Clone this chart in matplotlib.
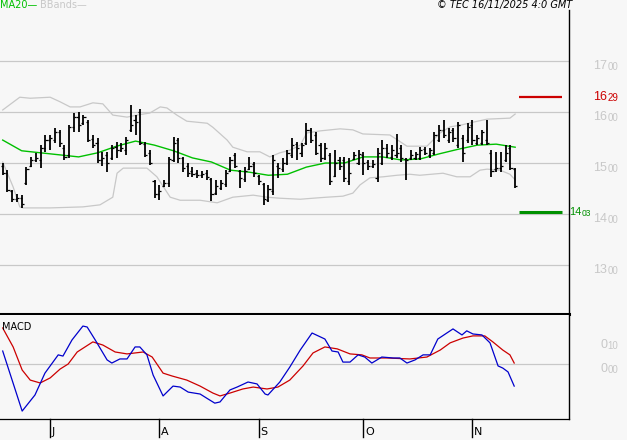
import numpy as np
import matplotlib
matplotlib.use("Agg")
import matplotlib.pyplot as plt
from matplotlib import font_manager

# daily OHLC bars (mid-June to 14 Nov)
opens = [14.95, 14.80, 14.45, 14.30, 14.32, 14.60, 14.94, 15.06, 15.05, 15.30,
         15.45, 15.45, 15.60, 15.30, 15.15, 15.70, 15.90, 15.78, 15.80, 15.48,
         15.40, 15.05, 15.15, 15.10, 15.32, 15.25, 15.25, 15.65, 15.85, 16.00,
         15.38, 15.20, 14.65, 14.40, 14.55, 14.60, 15.05, 15.45, 15.10, 14.95,
         14.85, 14.80, 14.76, 14.80, 14.68, 14.42, 14.52, 14.58, 14.85, 15.15,
         14.84, 14.68, 14.88, 14.98, 14.75, 14.58, 14.28, 14.45, 14.95, 14.88,
         15.00, 15.15, 15.38, 15.20, 15.40, 15.65, 15.55, 15.35, 15.10, 15.15,
         14.75, 15.05, 15.05, 14.65, 15.08, 15.00, 15.15, 15.02, 14.95, 14.70,
         15.00, 15.30, 15.12, 15.15, 15.30, 15.08, 15.10, 15.10, 15.10, 15.28,
         15.15, 15.20, 15.45, 15.65, 15.45, 15.65, 15.35, 15.50, 15.45, 15.75,
         15.40, 15.40, 15.45, 15.20, 14.88, 14.90, 15.05, 15.30, 14.88]
highs = [15.00, 14.86, 14.47, 14.39, 14.37, 14.92, 15.12, 15.20, 15.35, 15.55,
         15.55, 15.69, 15.65, 15.35, 15.74, 15.98, 16.00, 15.94, 15.84, 15.55,
         15.49, 15.22, 15.22, 15.35, 15.41, 15.39, 15.51, 16.14, 15.94, 16.06,
         15.41, 15.25, 14.67, 14.57, 14.67, 15.12, 15.51, 15.49, 15.12, 15.00,
         14.92, 14.86, 14.84, 14.86, 14.71, 14.67, 14.67, 14.86, 15.12, 15.20,
         14.86, 14.92, 15.12, 15.02, 14.76, 14.61, 14.57, 15.16, 15.00, 15.10,
         15.25, 15.49, 15.41, 15.39, 15.78, 15.69, 15.61, 15.39, 15.39, 15.20,
         15.25, 15.12, 15.12, 15.10, 15.22, 15.25, 15.22, 15.06, 15.06, 15.29,
         15.45, 15.37, 15.35, 15.57, 15.35, 15.10, 15.25, 15.22, 15.31, 15.31,
         15.29, 15.61, 15.74, 15.84, 15.69, 15.69, 15.80, 15.55, 15.78, 15.84,
         15.55, 15.65, 15.84, 15.25, 15.22, 15.22, 15.35, 15.35, 14.90]
lows = [14.76, 14.43, 14.24, 14.24, 14.12, 14.57, 14.92, 15.02, 14.90, 15.22,
        15.25, 15.39, 15.31, 15.06, 15.10, 15.61, 15.61, 15.74, 15.41, 15.29,
        15.00, 14.94, 14.82, 15.06, 15.10, 15.22, 15.16, 15.61, 15.55, 15.35,
        15.12, 14.96, 14.31, 14.27, 14.53, 14.53, 15.02, 15.00, 14.82, 14.73,
        14.73, 14.71, 14.71, 14.67, 14.26, 14.37, 14.47, 14.53, 14.82, 14.90,
        14.51, 14.63, 14.86, 14.73, 14.57, 14.18, 14.24, 14.37, 14.71, 14.82,
        14.96, 15.10, 15.06, 15.12, 15.35, 15.39, 15.16, 15.02, 15.06, 14.57,
        14.73, 14.86, 14.63, 14.57, 15.06, 14.96, 14.76, 14.86, 14.90, 14.63,
        14.96, 15.10, 15.06, 15.10, 15.02, 14.67, 15.06, 15.06, 15.06, 15.16,
        15.10, 15.16, 15.41, 15.49, 15.39, 15.41, 15.29, 15.02, 15.39, 15.35,
        15.35, 15.35, 15.35, 14.73, 14.82, 14.82, 15.02, 14.86, 14.51]
closes = [14.80, 14.47, 14.30, 14.32, 14.20, 14.88, 15.06, 15.10, 15.30, 15.45,
          15.50, 15.60, 15.40, 15.12, 15.70, 15.90, 15.75, 15.90, 15.45, 15.35,
          15.05, 15.10, 15.00, 15.30, 15.25, 15.30, 15.45, 15.75, 15.80, 15.40,
          15.15, 15.00, 14.40, 14.45, 14.60, 15.08, 15.40, 15.10, 14.90, 14.80,
          14.78, 14.76, 14.78, 14.72, 14.40, 14.55, 14.60, 14.80, 15.05, 14.95,
          14.70, 14.85, 14.95, 14.80, 14.65, 14.30, 14.50, 15.05, 14.90, 15.00,
          15.20, 15.35, 15.30, 15.35, 15.65, 15.45, 15.20, 15.10, 15.30, 14.65,
          15.00, 14.95, 14.70, 14.80, 15.15, 15.18, 15.00, 14.95, 14.98, 15.20,
          15.30, 15.20, 15.25, 15.20, 15.10, 15.05, 15.15, 15.18, 15.25, 15.20,
          15.25, 15.55, 15.65, 15.55, 15.60, 15.50, 15.75, 15.20, 15.70, 15.45,
          15.50, 15.60, 15.40, 14.85, 14.90, 14.95, 15.20, 14.90, 14.55]

# 20-day moving average
ma_x = [0, 4, 8, 12, 16, 20, 24, 28, 32, 36, 40, 44, 48, 52,
        56, 60, 64, 68, 72, 76, 80, 84, 88, 92, 96, 100, 104, 108]
ma_y = [15.45, 15.24, 15.20, 15.16, 15.12, 15.20, 15.33, 15.43, 15.35, 15.24,
        15.10, 15.02, 14.86, 14.82, 14.76, 14.78, 14.92, 15.00, 15.00, 15.12,
        15.12, 15.06, 15.08, 15.18, 15.27, 15.35, 15.37, 15.31]

# Bollinger bands
bb_up_x = [0, 3.6, 5.8, 10.0, 12.1, 14.2, 16.3, 19.0, 21.1, 23.2, 26.2, 28.3,
           31.0, 33.2, 34.6, 36.7, 38.8, 43.1, 44.3, 47.3, 48.5, 51.5, 54.2,
           56.3, 58.4, 60.5, 62.7, 64.1, 66.9, 71.1, 73.8, 75.9, 81.6, 85.2,
           89.4, 90.7, 92.2, 94.3, 96.4, 99.1, 102.1, 106.9, 108]
bb_up_y = [16.04, 16.29, 16.27, 16.29, 16.20, 16.10, 16.10, 16.18, 16.16,
           15.94, 15.90, 15.94, 15.98, 16.10, 16.08, 15.94, 15.82, 15.78,
           15.70, 15.45, 15.31, 15.22, 15.22, 15.12, 15.20, 15.25, 15.35,
           15.59, 15.63, 15.67, 15.65, 15.57, 15.55, 15.33, 15.33, 15.45,
           15.59, 15.71, 15.74, 15.80, 15.86, 15.88, 15.96]
bb_lo_x = [0, 0.9, 2.2, 3.6, 4.3, 10.0, 16.9, 20.5, 23.2, 24.1, 25.4, 30.4,
           32.5, 35.3, 37.4, 41.6, 45.2, 48.5, 52.8, 55.7, 58.4, 62.7, 65.4,
           68.3, 71.7, 73.8, 75.3, 77.4, 80.2, 83.1, 85.8, 87.9, 92.8, 95.7,
           98.5, 100.6, 102.1, 104.8, 106.9, 108]
bb_lo_y = [15.02, 14.82, 14.53, 14.14, 14.12, 14.12, 14.14, 14.18, 14.33,
           14.80, 14.90, 14.90, 14.73, 14.33, 14.27, 14.27, 14.22, 14.33,
           14.37, 14.33, 14.31, 14.29, 14.31, 14.33, 14.35, 14.41, 14.57,
           14.71, 14.73, 14.76, 14.78, 14.76, 14.80, 14.73, 14.73, 14.86,
           14.88, 14.86, 14.78, 14.67]

# MACD and signal
macd_x = [0, 4.1, 6.8, 8.9, 11.7, 12.7, 14.6, 16.9, 17.8, 19.5, 22.0, 23.0,
          24.7, 26.2, 27.9, 28.9, 30.4, 31.7, 33.8, 35.9, 37.4, 39.1, 41.6,
          43.3, 44.7, 45.8, 47.9, 49.4, 51.7, 53.6, 55.3, 55.9, 58.4, 60.5,
          62.7, 65.2, 67.9, 69.4, 70.7, 71.7, 73.2, 74.9, 76.3, 77.8, 79.9,
          82.3, 83.7, 85.2, 86.9, 88.6, 90.1, 91.7, 93.6, 94.9, 96.8, 97.8,
          99.1, 101.0, 102.7, 104.4, 105.4, 106.5, 107.8]
macd_y = [0.054, -0.196, -0.129, -0.038, 0.038, 0.033, 0.100, 0.158, 0.154,
          0.100, 0.017, 0.004, 0.021, 0.021, 0.071, 0.071, 0.038, -0.046,
          -0.133, -0.092, -0.096, -0.117, -0.125, -0.146, -0.163, -0.158,
          -0.108, -0.096, -0.075, -0.083, -0.125, -0.129, -0.075, -0.013,
          0.058, 0.129, 0.104, 0.054, 0.050, 0.008, 0.008, 0.038, 0.029,
          0.004, 0.029, 0.025, 0.025, 0.004, 0.017, 0.038, 0.038, 0.104,
          0.129, 0.146, 0.121, 0.138, 0.125, 0.121, 0.088, -0.008, -0.017,
          -0.033, -0.092]
sig_x = [0, 2.2, 4.1, 5.8, 7.9, 10.0, 12.1, 13.8, 15.7, 19.0, 21.1, 23.7,
         26.2, 29.6, 31.5, 33.8, 35.7, 38.8, 41.6, 44.3, 45.8, 47.9, 50.6,
         52.8, 55.7, 58.0, 60.5, 63.3, 65.4, 67.9, 70.5, 73.2, 75.7, 77.4,
         81.0, 85.8, 89.4, 92.2, 94.3, 97.0, 99.1, 101.6, 103.3, 105.4,
         106.9, 107.8]
sig_y = [0.150, 0.071, -0.025, -0.067, -0.079, -0.058, -0.021, 0.000, 0.050,
         0.092, 0.079, 0.050, 0.042, 0.050, 0.029, -0.038, -0.050, -0.067,
         -0.092, -0.121, -0.133, -0.121, -0.104, -0.096, -0.104, -0.096,
         -0.067, -0.008, 0.046, 0.071, 0.063, 0.042, 0.038, 0.025, 0.025,
         0.021, 0.029, 0.058, 0.088, 0.108, 0.117, 0.117, 0.092, 0.058,
         0.038, 0.004]

price_levels = [13, 14, 15, 16, 17]
price_labels = [("13", "00"), ("14", "00"), ("15", "00"), ("16", "00"), ("17", "00")]
resistance = 16.29
support = 14.03
month_starts = [10, 33, 54, 76, 99]
month_labels = ["J", "A", "S", "O", "N"]

BG = "#f7f7f7"
GRID = "#c8c8c8"
W, H = 627, 440

# narrow digits like the original; Liberation Sans if the narrow face is missing
installed = {f.name for f in font_manager.fontManager.ttflist}
if "Liberation Sans Narrow" in installed:
    NARROW, BIG, SMALL = ["Liberation Sans Narrow"], 9.5, 7.5
else:
    NARROW, BIG, SMALL = ["Liberation Sans", "DejaVu Sans"], 9, 7

fig = plt.figure(figsize=(W / 100, H / 100), dpi=100, facecolor=BG)
ax = fig.add_axes((0, (H - 314) / H, 569 / W, 304 / H), facecolor=BG)
axm = fig.add_axes((0, (H - 419) / H, 569 / W, 104 / H), facecolor=BG)

xlim = (-0.57, 119.35)
for a in (ax, axm):
    a.set_xlim(xlim)
    a.set_xticks([])
    a.set_yticks([])
    for s in ("top", "left"):
        a.spines[s].set_visible(False)
    a.spines["right"].set_color("black")
    a.spines["right"].set_linewidth(1.0)
    a.spines["bottom"].set_color("black")

ax.set_ylim(12.04, 18.0)
ax.spines["bottom"].set_linewidth(2.2)
axm.set_ylim(-0.229, 0.204)
axm.spines["bottom"].set_linewidth(0.9)


def split_label(a, x, y, big, small, color, ha="left", scale=1.0):
    # integer part in normal size, decimals smaller, right after it
    t = a.text(x, y, big, transform=a.get_yaxis_transform(), ha=ha, va="center",
               fontsize=BIG * scale, color=color, family=NARROW, clip_on=False)
    a.annotate(small, xy=(1, 0.5), xycoords=t, xytext=(0.2, -0.5),
               textcoords="offset points", ha="left", va="center",
               fontsize=SMALL * scale, color=color, family=NARROW,
               annotation_clip=False)


# price grid and labels
for lvl, (big, small) in zip(price_levels, price_labels):
    ax.axhline(lvl, color=GRID, lw=0.9, zorder=1)
    split_label(ax, 1.0668, lvl - 0.1, big, small, GRID, ha="right")

# Bollinger bands and MA20
ax.plot(bb_up_x, bb_up_y, color=GRID, lw=0.9, zorder=2)
ax.plot(bb_lo_x, bb_lo_y, color=GRID, lw=0.9, zorder=2)
ax.plot(ma_x, ma_y, color="#00c000", lw=1.0, zorder=3)

# OHLC bars
idx = np.arange(len(opens))
ax.vlines(idx, lows, highs, color="black", lw=1.3, zorder=4)
ax.hlines(opens, idx - 0.45, idx, color="black", lw=0.9, zorder=4)
ax.hlines(closes, idx, idx + 0.45, color="black", lw=0.9, zorder=4)

# resistance / support markers
ax.hlines(resistance, 108.8, 117.9, color="#cc0000", lw=1.6, zorder=4)
split_label(ax, 1.0668, resistance, "16", "29", "#cc0000", ha="right")
ax.hlines(support, 108.8, 117.9, color="#009000", lw=2.2, zorder=4)
split_label(ax, 1.0005, support, "14", "03", "#009000", scale=0.88)

# MACD panel
axm.axhline(0, color=GRID, lw=0.9, zorder=1)
axm.plot(sig_x, sig_y, color="#cc0000", lw=0.9, zorder=3)
axm.plot(macd_x, macd_y, color="#0000cc", lw=0.9, zorder=3)
axm.text(0.004, 0.93, "MACD", transform=axm.transAxes, ha="left", va="top",
         fontsize=7, color="black")
for lvl, big, small in [(0.10, "0", "10"), (0.0, "0", "00")]:
    split_label(axm, 1.0668, lvl - 0.021, big, small, GRID, ha="right")

# month ticks below the MACD panel
btr = axm.get_xaxis_transform()
for m, lab in zip(month_starts, month_labels):
    axm.plot([m, m], [0, -0.175], transform=btr, color="black", lw=1.0,
             clip_on=False)
    axm.text(m + 0.35, -0.175, lab, transform=btr, ha="left", va="bottom",
             fontsize=8, color="black", clip_on=False)

# header
fig.text(0.0, 1 - 5 / H, "MA20\u2014", color="#00c000", fontsize=7, va="center", ha="left")
fig.text(40 / W, 1 - 5 / H, "BBands\u2014", color=GRID, fontsize=7, va="center", ha="left")
fig.text(572 / W, 1 - 5 / H, "\u00a9 TEC 16/11/2025 4:0 GMT", color="black",
         fontsize=7, style="italic", va="center", ha="right")

fig.savefig("out.png", dpi=100, facecolor=BG)
